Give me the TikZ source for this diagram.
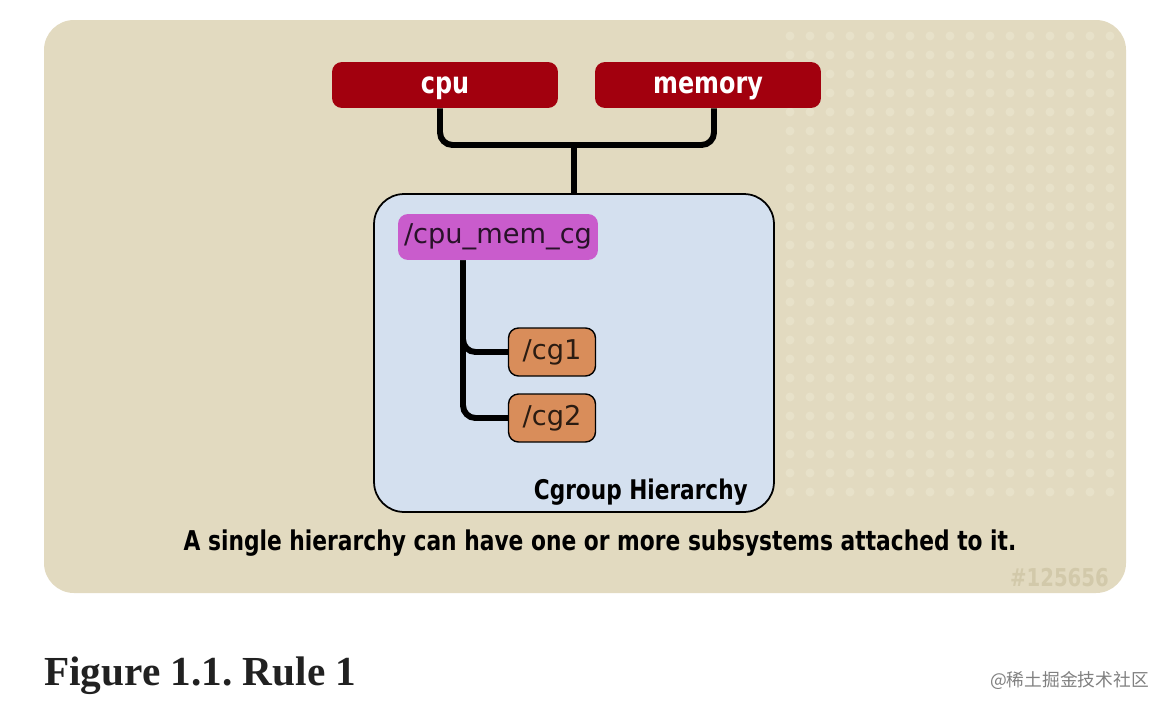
\documentclass[tikz,border=0pt]{standalone}
\usepackage{fontspec}
\usepackage{xcolor}
\usepackage{tikz}
\setsansfont{DejaVu Sans}
\newfontfamily\narrowfont[FakeStretch=0.8]{DejaVu Sans}
\newfontfamily\bookfont{Liberation Serif}
\newfontfamily\cjkfont{Noto Sans CJK SC}

\definecolor{panelbg}{HTML}{E2DAC0}
\definecolor{paneldot}{HTML}{E7E1C9}
\definecolor{subred}{HTML}{A2000E}
\definecolor{hierblue}{HTML}{D4E0EF}
\definecolor{cgpurple}{HTML}{C95CCC}
\definecolor{cgorange}{HTML}{D98D5A}
\definecolor{tagtext}{HTML}{D2C9AA}

\begin{document}
\begin{tikzpicture}[x=0.02cm,y=-0.02cm]
				\tikzstyle{subsys} = [fill=subred, rounded corners=0.2cm, minimum width=4.52cm, minimum height=0.92cm, text height=9.3pt, text depth=0pt, text=white, font=\narrowfont\bfseries\fontsize{17}{17}\selectfont]
				\tikzstyle{hier}   = [draw, line width=1pt, fill=hierblue, rounded corners=0.6cm, minimum width=8cm, minimum height=6.36cm]
				\tikzstyle{root}   = [fill=cgpurple, rounded corners=0.2cm, minimum width=4cm, minimum height=0.92cm, text=black!80!cgpurple, font=\sffamily\fontsize{15.5}{15.5}\selectfont]
				\tikzstyle{group}  = [draw, line width=0.8pt, fill=cgorange, rounded corners=0.2cm, minimum width=1.74cm, minimum height=0.96cm, text=black!80!cgorange, font=\sffamily\fontsize{15.5}{15.5}\selectfont]
				\tikzset{wire/.style = {line width=3.4pt, rounded corners=0.25cm}}
				\useasboundingbox (0,0) rectangle (1172,710);
				
				% panel + dots
				\fill[panelbg] (44,20) [rounded corners=0.6cm] rectangle (1126,593);
				\foreach \x in {790,810,...,1110}
					\foreach \y in {36,55,...,492}
						\fill[paneldot] (\x,\y) circle (0.09cm);
				
				% subsystems
				\node[subsys](cpu)    at (445,85) {cpu};
				\node[subsys](memory) at (708,85) {memory};
				\coordinate (join) at (574,145);
				
				% hierarchy
				\node[hier](H) at (574,353) {};
				\node[root](cpumem) at (498,237) {/cpu\_mem\_cg};
				\node[group](cg1) at (552,352) {/cg1};
				\node[group](cg2) at (552,418) {/cg2};
				\coordinate (trunk) at (463,260);
				\node[anchor=east, font=\narrowfont\bfseries\fontsize{15.4}{15.4}\selectfont](hname) at (754,492) {Cgroup Hierarchy};
				
				% wires
				\draw[wire]([xshift=-0.1cm]cpu.south) |- (join) -| ([xshift=0.12cm]memory.south);
				\draw[wire](join) -- (H.north);
				\draw[wire](cpumem.south -| trunk) |- (cg1.west);
				\draw[wire](cpumem.south -| trunk) |- (cg2.west);
				
				% captions
				\node[font=\narrowfont\bfseries\fontsize{15.5}{15.5}\selectfont](rule) at (600,543) {A single hierarchy can have one or more subsystems attached to it.};
				\node[anchor=east, text=tagtext, font=\narrowfont\bfseries\fontsize{14}{14}\selectfont](tag) at (1115,578) {\#125656};
				\node[anchor=west, text=black!87, font=\bookfont\bfseries\fontsize{23.5}{23.5}\selectfont](fig) at (38,676) {\frenchspacing Figure 1.1. Rule 1};
				\node[anchor=east, text=black!50, font=\cjkfont\fontsize{10.1}{10.1}\selectfont](mark) at (1155,680) {@稀土掘金技术社区};
			\end{tikzpicture}
\end{document}
